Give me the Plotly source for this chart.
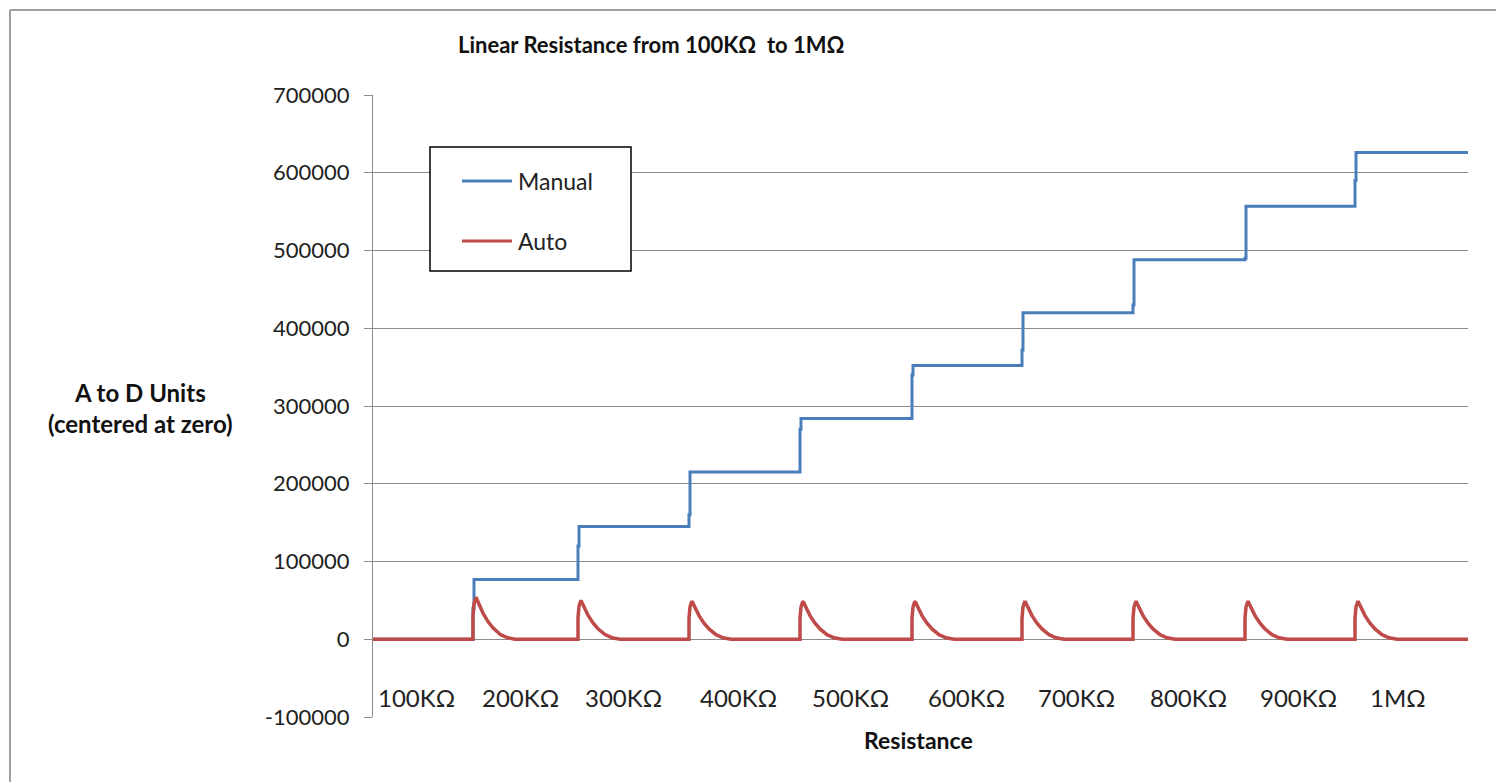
import plotly.graph_objects as go

# ---- data ----
# x: sample index along the sweep (0 .. 1095)
x_end = 1095
step_positions = [100, 205, 316, 427, 539, 649, 760, 872, 982]
manual_levels = [0, 77000, 145000, 215000, 284000, 352000, 420000, 488000, 557000, 626000]
manual_mid = [40000, 120000, 160000, 270000, 340000, 372000, 430000, 490000, 590000]
auto_peaks = [54000, 50000, 49000, 49000, 49000, 49000, 49000, 49000, 49000]
# shape of each Auto spike (offset from step, fraction of peak)
spike_offsets = [0, 0, 1, 3, 6, 10, 15, 20, 27, 34, 42]
spike_fraction = [0.0, 0.55, 0.85, 1.0, 0.84, 0.62, 0.42, 0.27, 0.12, 0.04, 0.0]

x_labels = ["100KΩ", "200KΩ", "300KΩ", "400KΩ", "500KΩ", "600KΩ", "700KΩ", "800KΩ", "900KΩ", "1MΩ"]
x_label_pos = [43, 147, 250, 365, 477, 593, 703, 815, 925, 1025]

y_ticks = [-100000, 0, 100000, 200000, 300000, 400000, 500000, 600000, 700000]
y_tick_text = ["-100000", "0", "100000", "200000", "300000", "400000", "500000", "600000", "700000"]

# ---- build series ----
mx, my = [0], [manual_levels[0]]
for i, s in enumerate(step_positions):
    mx += [s, s, s + 1, s + 1]
    my += [manual_levels[i], manual_mid[i], manual_mid[i], manual_levels[i + 1]]
mx.append(x_end)
my.append(manual_levels[-1])

ax, ay = [0], [0]
for s, p in zip(step_positions, auto_peaks):
    for o, f in zip(spike_offsets, spike_fraction):
        ax.append(s + o)
        ay.append(p * f)
ax.append(x_end)
ay.append(0)

BLUE = "#4A7EBB"
RED = "#BE4B48"
GRID = "#8c8c8c"
FONT = "Lato"

fig = go.Figure()
fig.add_trace(go.Scatter(x=mx, y=my, mode="lines", name="Manual",
                         line=dict(color=BLUE, width=3), showlegend=False))
fig.add_trace(go.Scatter(x=ax, y=ay, mode="lines", name="Auto",
                         line=dict(color=RED, width=3.5), showlegend=False))

OFF = 8  # page body margin
W, H = 1504 - OFF, 782 - OFF
PL, PR, PT, PB = 373, 1468, 95, 717  # plot area in screen pixels
L, T = PL - OFF, PT - OFF
R = W + OFF - PR
B = H + OFF - PB
pw, ph = PR - PL, PB - PT


def px(xp):
    return (xp - PL) / pw


def py(yp):
    return (PB - yp) / ph


fig.update_layout(
    width=W, height=H,
    margin=dict(l=L, r=R, t=T, b=B),
    paper_bgcolor="white", plot_bgcolor="white",
    font=dict(family=FONT, size=20, color="#222"),
    xaxis=dict(range=[0, x_end], showgrid=False, showticklabels=False,
               zeroline=False, showline=False, ticks=""),
    yaxis=dict(range=[-100000, 700000], tickvals=y_ticks, ticktext=y_tick_text,
               showgrid=True, gridcolor=GRID, gridwidth=1,
               zeroline=True, zerolinecolor=GRID, zerolinewidth=1,
               showline=True, linecolor=GRID, linewidth=1,
               ticks="outside", ticklen=8, tickcolor=GRID,
               tickfont=dict(family=FONT, size=22, color="#222"),
               ticklabelstandoff=10),
    showlegend=False,
)

anns = []
for lab, xp in zip(x_labels, x_label_pos):
    anns.append(dict(x=xp, y=-75000, xref="x", yref="y", text=lab, showarrow=False,
                     font=dict(family=FONT, size=24, color="#222"),
                     xanchor="center", yanchor="middle"))
anns.append(dict(x=px(651), y=py(45), xref="paper", yref="paper",
                 text="<b>Linear Resistance from 100KΩ  to 1MΩ</b>", showarrow=False,
                 font=dict(family=FONT, size=22, color="#111"),
                 xanchor="center", yanchor="middle"))
anns.append(dict(x=px(140), y=py(408), xref="paper", yref="paper",
                 text="<b>A to D Units</b><br><b>(centered at zero)</b>", showarrow=False,
                 font=dict(family=FONT, size=24, color="#111"),
                 xanchor="center", yanchor="middle", align="center"))
anns.append(dict(x=px(918), y=py(740), xref="paper", yref="paper",
                 text="<b>Resistance</b>", showarrow=False,
                 font=dict(family=FONT, size=23, color="#111"),
                 xanchor="center", yanchor="middle"))
# legend text
anns.append(dict(x=px(516), y=py(181), xref="paper", yref="paper", text="Manual",
                 showarrow=False, font=dict(family=FONT, size=23, color="#222"),
                 xanchor="left", yanchor="middle"))
anns.append(dict(x=px(516), y=py(241), xref="paper", yref="paper", text="Auto",
                 showarrow=False, font=dict(family=FONT, size=23, color="#222"),
                 xanchor="left", yanchor="middle"))
fig.update_layout(annotations=anns)

FX0, FY0, FX1, FY1 = 10, 10, 1497, 800
shapes = [
    # legend box
    dict(type="rect", xref="paper", yref="paper", x0=px(430), x1=px(631),
         y0=py(271), y1=py(147), line=dict(color="black", width=1.5), fillcolor="white",
         layer="above"),
    dict(type="line", xref="paper", yref="paper", x0=px(462), x1=px(512),
         y0=py(181), y1=py(181), line=dict(color=BLUE, width=3)),
    dict(type="line", xref="paper", yref="paper", x0=px(462), x1=px(512),
         y0=py(241), y1=py(241), line=dict(color=RED, width=3)),
    # outer chart frame
    dict(type="line", xref="paper", yref="paper", x0=px(FX0), x1=px(FX0),
         y0=py(FY0), y1=py(FY1), line=dict(color="#a0a0a0", width=2)),
    dict(type="line", xref="paper", yref="paper", x0=px(FX0), x1=px(FX1),
         y0=py(FY0), y1=py(FY0), line=dict(color="#a0a0a0", width=2)),
    dict(type="line", xref="paper", yref="paper", x0=px(FX1), x1=px(FX1),
         y0=py(FY0), y1=py(FY1), line=dict(color="#a0a0a0", width=2)),
]
fig.update_layout(shapes=shapes)

fig.write_html("out.html")
